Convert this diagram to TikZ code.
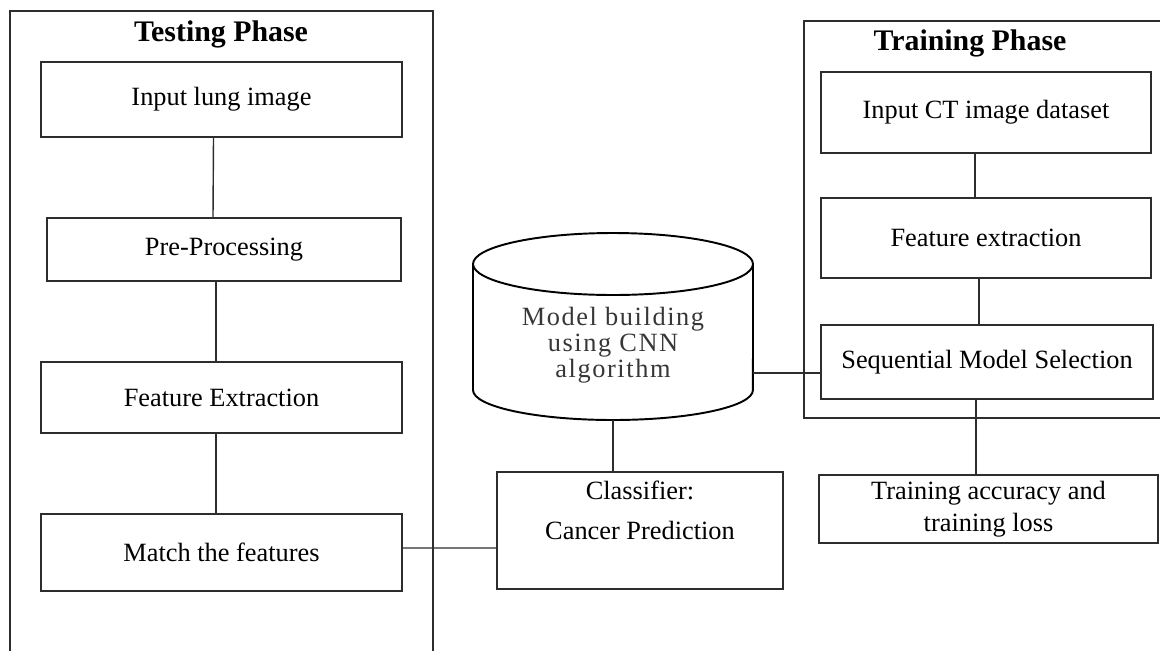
\documentclass[tikz,border=0pt]{standalone}
\usepackage{fontspec}
\setmainfont{Liberation Serif}
\usepackage{tikz}
\usetikzlibrary{shapes.geometric, positioning, calc}
\definecolor{linegray}{RGB}{45, 45, 45}
\definecolor{cyltextgray}{RGB}{55, 55, 55}

\begin{document}
\begin{tikzpicture}[x=0.02cm, y=-0.02cm,
    stepbox/.style={draw=linegray, line width=0.8pt, inner sep=0pt, align=center, font=\fontsize{15}{18}\selectfont},
    phasetitle/.style={font=\fontsize{17}{20}\selectfont\bfseries},
    conn/.style={draw=linegray, line width=0.8pt},
    frame/.style={draw=linegray, line width=0.8pt},
    cylline/.style={draw=black, line width=1.1pt}]
        \useasboundingbox (0,0) rectangle (1160,650);
        \clip (0,0) rectangle (1160,650);

        % Phase frames
        \draw[frame] (10,700) -- (10,11) -- (433,11) -- (433,700);
        \node[phasetitle] (testtitle) at (221,34) {Testing Phase};

        \draw[frame] (1200,21) -- (804,21) -- (804,418) -- (1200,418);
        \node[phasetitle] (traintitle) at (970,43) {Training Phase};

        % Testing steps
        \node[stepbox, minimum width=7.22cm, minimum height=1.5cm] (inlung) at (221.5,99.5) {Input lung image};
        \node[stepbox, minimum width=7.08cm, minimum height=1.26cm] (prep) at (224,249.5) {Pre-Processing};
        \node[stepbox, minimum width=7.22cm, minimum height=1.42cm] (featx) at (221.5,397.5) {Feature Extraction};
        \node[stepbox, minimum width=7.22cm, minimum height=1.54cm] (match) at (221.5,552.5) {Match the features};

        % Training steps
        \node[stepbox, minimum width=6.6cm, minimum height=1.62cm] (inct) at (986,112.5) {Input CT image dataset};
        \node[stepbox, minimum width=6.6cm, minimum height=1.6cm] (featt) at (986,238) {Feature extraction};
        \node[stepbox, minimum width=6.64cm, minimum height=1.48cm] (seq) at (987,362) {Sequential Model Selection};
        \node[stepbox, minimum width=6.78cm, minimum height=1.36cm] (acc) at (988.5,509) {Training accuracy and\\training loss};

        % Model cylinder
        \draw[cylline] (473,264) -- (473,390) arc[start angle=180, end angle=360, x radius=2.8cm, y radius=0.6cm] -- (753,264);
        \draw[cylline] (613,264) ellipse [x radius=2.8cm, y radius=0.62cm];
        \coordinate (cnnbot) at (613,420);
        \coordinate (cnnright) at (753,373);
        \node[align=center, text=cyltextgray, font=\fontsize{15}{14.7}\selectfont\addfontfeature{LetterSpace=6}] (cnntext) at (613,345) {Model building\\using CNN\\algorithm};

        % Classifier
        \node[stepbox, minimum width=5.72cm, minimum height=2.34cm] (clf) at (640,530.5) {Classifier:\\[5pt]Cancer Prediction\\[5pt]\mbox{}};

        % Connections
        \draw[conn] ($(inlung.south)+(-8,0)$) -- ($(prep.north)+(-11,0)$);
        \draw[conn] ($(prep.south)+(-8,0)$) -- ($(featx.north)+(-5.5,0)$);
        \draw[conn] ($(featx.south)+(-5.5,0)$) -- ($(match.north)+(-5.5,0)$);

        \draw[conn] ($(inct.south)+(-11,0)$) -- ($(featt.north)+(-11,0)$);
        \draw[conn] ($(featt.south)+(-7,0)$) -- ($(seq.north)+(-8,0)$);
        \draw[conn] ($(seq.south)+(-11,0)$) -- ($(acc.north)+(-12.5,0)$);

        \draw[conn] ($(match.east)+(0,-4.5)$) -- ($(clf.west)+(0,17.5)$);
        \draw[conn] (cnnbot) -- (cnnbot |- clf.north);
        \draw[conn] (cnnright) -- (cnnright -| seq.west);

    \end{tikzpicture}
\end{document}
